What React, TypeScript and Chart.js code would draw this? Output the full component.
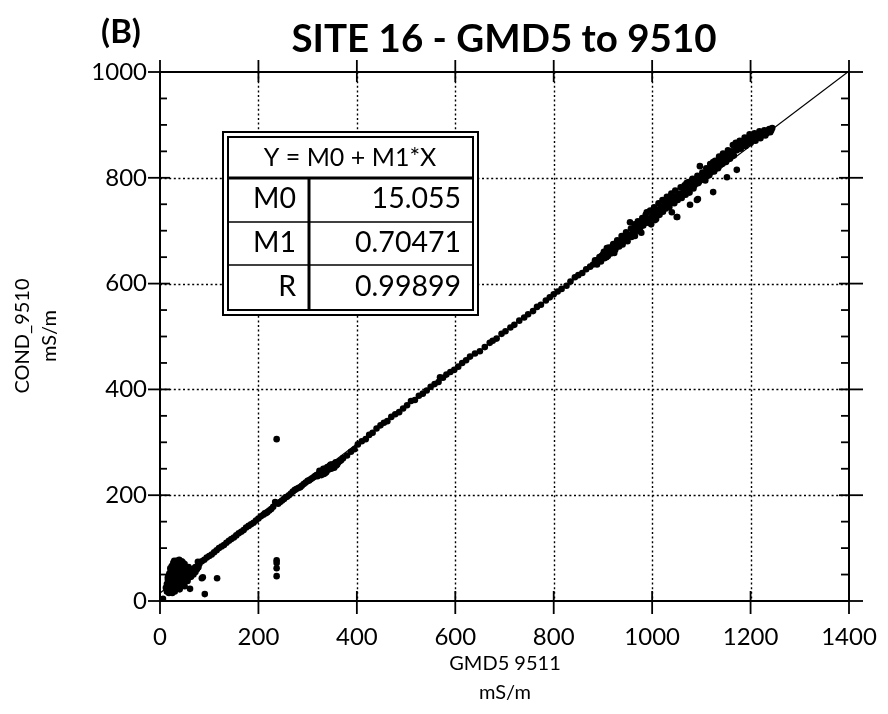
import React, { useEffect, useRef } from "react";
import { Chart, registerables } from "chart.js";
Chart.register(...registerables);

const PANEL_LABEL = "(B)";
const TITLE = "SITE 16 - GMD5 to 9510";
const X_TITLE = ["GMD5 9511", "mS/m"];
const Y_TITLE = ["COND_9510", "mS/m"];
const X_MIN = 0, X_MAX = 1400, X_STEP = 200;
const Y_MIN = 0, Y_MAX = 1000, Y_STEP = 200, Y_MINOR = 50;

const FIT_HEADER = "Y = M0 + M1*X";
const FIT_NAMES = ["M0", "M1", "R"];
const FIT_VALUES = ["15.055", "0.70471", "0.99899"];
const M0 = 15.055;
const M1 = 0.70471;

// low-conductivity cluster
const lowX = [6, 15, 17, 18, 19, 20, 20, 21, 22, 22, 23, 24, 24, 25, 25, 26, 26, 27, 28, 28, 29, 30, 30, 31, 32, 32, 33, 34, 35, 35, 36, 37, 38, 38, 39, 40, 41, 42, 43, 44, 45, 46, 47, 48, 50, 52, 53, 55, 57, 58, 60, 62, 65, 68, 70, 72, 75, 78, 30, 34, 44, 26, 22, 18, 16, 18, 25, 30, 40, 50, 61, 91, 116, 85, 77, 87];
const lowY = [4, 22, 28, 35, 25, 30, 40, 20, 33, 45, 27, 38, 50, 22, 31, 42, 55, 35, 28, 47, 60, 38, 25, 52, 33, 44, 65, 40, 30, 56, 48, 70, 36, 60, 44, 52, 74, 40, 62, 47, 35, 55, 68, 43, 50, 60, 40, 47, 55, 64, 45, 52, 58, 50, 62, 55, 60, 64, 72, 76, 75, 66, 58, 48, 40, 15, 15, 18, 22, 28, 23, 13, 43, 43, 74, 45];
const lowX2 = [14, 16, 18, 20, 21, 22, 23, 24, 26, 27, 28, 29, 30, 31, 32, 33, 34, 35, 36, 37, 38, 39, 40, 41, 42, 43, 44, 45, 46, 48, 49, 50, 51, 54, 56, 58, 60, 63, 66, 69, 73, 12, 14, 16, 19, 21, 24, 27, 29, 32, 36, 39, 42, 46, 50];
const lowY2 = [18, 24, 30, 18, 26, 38, 16, 44, 20, 48, 40, 32, 45, 28, 58, 50, 24, 45, 62, 40, 52, 28, 65, 46, 34, 55, 68, 50, 42, 58, 35, 62, 45, 55, 38, 50, 58, 46, 55, 58, 60, 25, 32, 45, 52, 62, 66, 72, 76, 70, 74, 78, 70, 73, 70];

// band along the fit up to ~370
const bandX = [85, 95, 105, 115, 125, 135, 145, 155, 165, 175, 185, 195, 205, 210, 213, 215, 222, 230, 234, 240, 248, 255, 262, 270, 278, 285, 292, 300, 306, 312, 318, 322, 326, 330, 333, 335, 338, 340, 342, 345, 348, 350, 352, 355, 358, 362];
const bandY = [75, 82, 88, 96, 103, 110, 117, 124, 131, 139, 145, 152, 160, 163, 166, 166, 171, 178, 187, 184, 190, 196, 200, 207, 212, 215, 221, 227, 230, 234, 238, 240, 243, 246, 240, 250, 244, 253, 248, 256, 250, 258, 254, 260, 256, 262];
const bandX2 = [65, 72, 80, 90, 100, 110, 120, 130, 140, 150, 160, 170, 180, 190, 200, 218, 226, 244, 252, 258, 266, 274, 282, 288, 296, 303, 309, 315, 320, 324, 328, 332, 336, 344, 347, 354, 357, 360, 365, 368];
const bandY2 = [60, 64, 70, 78, 85, 92, 100, 106, 114, 120, 128, 134, 142, 148, 156, 168, 174, 187, 193, 197, 203, 210, 214, 218, 224, 228, 232, 236, 236, 246, 238, 250, 242, 250, 258, 252, 262, 258, 264, 266];

// isolated points near 237
const outX = [237, 237, 237, 237, 237];
const outY = [306, 77, 72, 62, 47];

// sparse middle range
const midX = [372, 380, 388, 395, 402, 410, 418, 425, 432, 440, 448, 455, 462, 470, 478, 486, 494, 502, 510, 518, 526, 534, 542, 550, 558, 566, 569, 575, 582, 590, 598, 606, 614, 622, 630, 640, 650, 660, 670, 676, 684, 694, 702, 712, 720, 730, 740, 748, 758, 766, 774, 784, 792, 800, 808, 816, 826, 834, 843, 850, 858, 866, 874];
const midY = [270, 275, 282, 287, 296, 302, 306, 314, 318, 326, 332, 337, 340, 348, 353, 357, 364, 370, 378, 380, 388, 392, 398, 405, 410, 414, 423, 422, 428, 433, 437, 443, 450, 455, 462, 468, 472, 480, 488, 492, 496, 505, 510, 517, 522, 530, 536, 542, 548, 556, 560, 568, 574, 580, 585, 590, 596, 604, 612, 616, 620, 627, 632];

// high-conductivity cluster
const highX = [880, 885, 890, 893, 894, 896, 900, 903, 906, 908, 910, 914, 918, 920, 923, 926, 930, 933, 936, 940, 943, 946, 950, 953, 955, 958, 962, 965, 968, 972, 975, 978, 982, 985, 989, 990, 994, 998, 1002, 1005, 1008, 1012, 1015, 1018, 1022, 1025, 1028, 1032, 1035, 1038, 1040, 1045, 1048, 1050, 1052, 1056, 1060, 1064, 1068, 1070, 1072, 1076, 1080, 1084, 1088, 1091, 1094, 1097, 1100, 1104, 1108, 1112, 1116, 1120, 1124, 1126, 1130, 1134, 1138, 1142, 1146, 1150, 1152, 1155, 1158, 1162, 1166, 1168, 1172, 1176, 1180, 1185, 1190, 1195, 1200, 1205, 1210, 1215, 1220, 1225, 1230, 1236, 1240, 1244];
const highY = [636, 640, 645, 650, 648, 642, 655, 648, 660, 667, 652, 660, 665, 672, 658, 668, 676, 670, 680, 674, 684, 690, 680, 692, 716, 688, 698, 690, 705, 700, 712, 696, 710, 720, 735, 715, 722, 712, 728, 735, 722, 740, 730, 745, 736, 750, 742, 755, 745, 760, 735, 752, 765, 726, 758, 770, 762, 775, 768, 790, 780, 772, 788, 780, 795, 758, 790, 822, 798, 806, 795, 812, 805, 818, 773, 812, 825, 818, 832, 826, 838, 830, 801, 845, 836, 850, 842, 860, 852, 862, 855, 868, 860, 872, 866, 878, 870, 880, 875, 885, 880, 890, 886, 894];
const highX2 = [884, 888, 897, 902, 907, 912, 916, 921, 925, 929, 934, 938, 942, 947, 951, 957, 960, 964, 967, 971, 976, 980, 983, 987, 992, 996, 1000, 1004, 1006, 1009, 1013, 1017, 1021, 1026, 1030, 1034, 1039, 1043, 1047, 1051, 1054, 1058, 1062, 1066, 1074, 1077, 1078, 1082, 1086, 1092, 1093, 1096, 1102, 1106, 1110, 1114, 1118, 1122, 1124, 1128, 1132, 1136, 1140, 1144, 1148, 1154, 1160, 1164, 1170, 1172, 1174, 1178, 1183, 1188, 1192, 1198, 1203, 1208, 1213, 1218, 1222, 1228, 1233, 1238, 1242];
const highY2 = [644, 636, 652, 660, 650, 668, 657, 675, 664, 682, 676, 690, 680, 697, 688, 704, 696, 712, 700, 718, 706, 724, 714, 730, 720, 738, 728, 744, 720, 734, 752, 742, 758, 746, 764, 752, 770, 758, 776, 726, 766, 782, 770, 786, 792, 749, 780, 798, 786, 804, 760, 794, 810, 800, 818, 808, 826, 815, 830, 832, 822, 840, 828, 846, 836, 852, 842, 862, 866, 815, 858, 870, 862, 876, 866, 882, 872, 884, 876, 888, 880, 890, 884, 892, 890];

const FONT = "Lato, 'DejaVu Sans', sans-serif";

function pts(xs: number[], ys: number[]) {
  return xs.map((x, i) => ({ x, y: ys[i] }));
}

const decorPlugin = {
  id: "decor",
  beforeDatasetsDraw(chart: any) {
    const { ctx, chartArea: a, scales } = chart;
    const xs = scales.x, ys = scales.y;
    ctx.save();
    ctx.strokeStyle = "#000";
    ctx.lineWidth = 1.4;
    ctx.setLineDash([2, 2.6]);
    for (let v = X_MIN + X_STEP; v < X_MAX; v += X_STEP) {
      const px = Math.round(xs.getPixelForValue(v)) + 0.5;
      ctx.beginPath(); ctx.moveTo(px, a.top); ctx.lineTo(px, a.bottom); ctx.stroke();
    }
    for (let v = Y_MIN + Y_STEP; v < Y_MAX; v += Y_STEP) {
      const py = Math.round(ys.getPixelForValue(v)) + 0.5;
      ctx.beginPath(); ctx.moveTo(a.left, py); ctx.lineTo(a.right, py); ctx.stroke();
    }
    ctx.restore();
  },
  afterDraw(chart: any) {
    const { ctx, chartArea: a, scales } = chart;
    const xs = scales.x, ys = scales.y;
    ctx.save();
    ctx.strokeStyle = "#000";
    ctx.fillStyle = "#000";
    ctx.setLineDash([]);
    ctx.lineWidth = 2;
    ctx.strokeRect(a.left, a.top, a.right - a.left, a.bottom - a.top);
    ctx.lineWidth = 1.8;
    for (let v = X_MIN; v <= X_MAX; v += X_STEP) {
      const px = xs.getPixelForValue(v);
      ctx.beginPath(); ctx.moveTo(px, a.bottom - 10); ctx.lineTo(px, a.bottom + 13); ctx.stroke();
      ctx.beginPath(); ctx.moveTo(px, a.top - 12); ctx.lineTo(px, a.top + 10); ctx.stroke();
    }
    for (let v = Y_MIN; v <= Y_MAX; v += Y_MINOR) {
      const py = ys.getPixelForValue(v);
      if (v % Y_STEP === 0) {
        ctx.beginPath(); ctx.moveTo(a.left - 12, py); ctx.lineTo(a.left + 10, py); ctx.stroke();
        ctx.beginPath(); ctx.moveTo(a.right - 10, py); ctx.lineTo(a.right + 14, py); ctx.stroke();
      } else {
        ctx.beginPath(); ctx.moveTo(a.left, py); ctx.lineTo(a.left + 7, py); ctx.stroke();
        ctx.beginPath(); ctx.moveTo(a.right - 8, py); ctx.lineTo(a.right, py); ctx.stroke();
      }
    }
    ctx.textAlign = "center";
    ctx.textBaseline = "middle";
    ctx.font = `bold 38.5px ${FONT}`;
    ctx.fillText(TITLE, 504, 40);
    ctx.font = `bold 33px ${FONT}`;
    ctx.fillText(PANEL_LABEL, 121, 32);
    ctx.font = `20px ${FONT}`;
    ctx.fillText(X_TITLE[0], 505, 664);
    ctx.fillText(X_TITLE[1], 505, 693);
    ctx.save();
    ctx.translate(23, 336);
    ctx.rotate(-Math.PI / 2);
    ctx.fillText(Y_TITLE[0], 0, 0);
    ctx.restore();
    ctx.save();
    ctx.translate(50, 336);
    ctx.rotate(-Math.PI / 2);
    ctx.fillText(Y_TITLE[1], 0, 0);
    ctx.restore();

    const L = 223, T = 132, R = 478, B = 315;
    ctx.fillStyle = "#fff";
    ctx.fillRect(L, T, R - L, B - T);
    ctx.fillStyle = "#000";
    ctx.lineWidth = 2;
    ctx.strokeRect(L, T, R - L, B - T);
    ctx.strokeRect(L + 5, T + 5, R - L - 10, B - T - 10);
    ctx.lineWidth = 3;
    ctx.beginPath(); ctx.moveTo(L + 5, 178); ctx.lineTo(R - 5, 178); ctx.stroke();
    ctx.beginPath(); ctx.moveTo(309, 178); ctx.lineTo(309, B - 5); ctx.stroke();
    ctx.lineWidth = 1.6;
    [222, 265].forEach((y) => { ctx.beginPath(); ctx.moveTo(L + 5, y); ctx.lineTo(R - 5, y); ctx.stroke(); });
    ctx.font = `25px ${FONT}`;
    ctx.textAlign = "center";
    ctx.fillText(FIT_HEADER, 350, 158);
    const rowsY = [199, 243, 287];
    ctx.textAlign = "right";
    ctx.font = `28.5px ${FONT}`;
    FIT_NAMES.forEach((n, i) => {
      ctx.fillText(n, 296, rowsY[i]);
      ctx.fillText(FIT_VALUES[i], 461, rowsY[i]);
    });
    ctx.restore();
  },
};

export default function App() {
  const ref = useRef<HTMLCanvasElement>(null);
  useEffect(() => {
    const canvas = ref.current!;
    const scatter = [
      ...pts(lowX, lowY),
      ...pts(lowX2, lowY2),
      ...pts(bandX, bandY),
      ...pts(bandX2, bandY2),
      ...pts(outX, outY),
      ...pts(midX, midY),
      ...pts(highX, highY),
      ...pts(highX2, highY2),
    ];
    const chart = new Chart(canvas, {
      type: "scatter",
      data: {
        datasets: [
          {
            type: "line",
            data: [
              { x: X_MIN, y: M0 + M1 * X_MIN },
              { x: X_MAX, y: M0 + M1 * X_MAX },
            ],
            borderColor: "#000",
            borderWidth: 1.2,
            pointRadius: 0,
            fill: false,
          } as any,
          {
            data: scatter,
            backgroundColor: "#000",
            borderColor: "#000",
            pointRadius: 3.3,
            borderWidth: 0,
          },
        ],
      },
      options: {
        animation: false,
        responsive: false,
        devicePixelRatio: 1,
        layout: { padding: { top: 72, right: 39, left: 0, bottom: 0 } },
        plugins: { legend: { display: false }, tooltip: { enabled: false }, title: { display: false } },
        scales: {
          x: {
            type: "linear",
            min: X_MIN,
            max: X_MAX,
            grid: { display: false, drawTicks: false },
            border: { display: false },
            ticks: {
              stepSize: X_STEP,
              color: "#000",
              font: { family: FONT, size: 24 },
              padding: 22,
              maxRotation: 0,
              autoSkip: false,
              callback: (v: any) => String(v),
            },
            afterFit: (s: any) => { s.height = 113; s.paddingLeft = 0; s.paddingRight = 0; },
          },
          y: {
            type: "linear",
            min: Y_MIN,
            max: Y_MAX,
            grid: { display: false, drawTicks: false },
            border: { display: false },
            ticks: {
              stepSize: Y_STEP,
              color: "#000",
              font: { family: FONT, size: 24 },
              padding: 13,
              callback: (v: any) => String(v),
            },
            afterFit: (s: any) => { s.width = 160; s.paddingTop = 0; s.paddingBottom = 0; },
          },
        },
      },
      plugins: [decorPlugin],
    });
    return () => chart.destroy();
  }, []);
  return (
    <div style={{ position: "absolute", left: 0, top: 0, width: 888, height: 714, background: "#fff" }}>
      <canvas ref={ref} width={888} height={714} />
    </div>
  );
}
